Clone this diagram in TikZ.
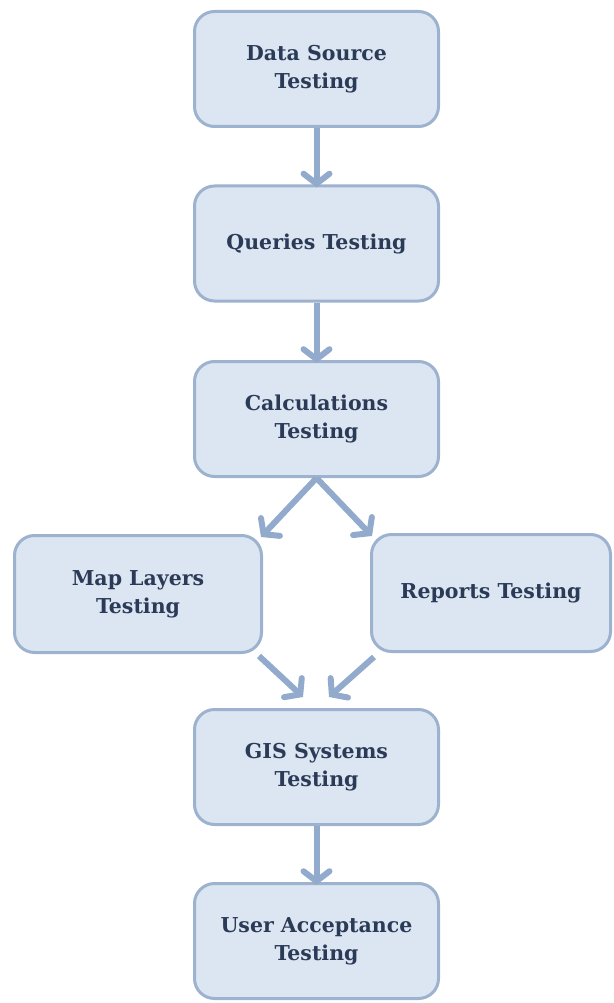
\documentclass[tikz,border=0pt]{standalone}
\usepackage{fontspec}
\setmainfont{DejaVu Serif}
\usetikzlibrary{arrows.meta}
\definecolor{boxfill}{HTML}{DCE6F2}
\definecolor{boxline}{HTML}{9DB2CE}
\definecolor{arrowcol}{HTML}{92ABCD}
\definecolor{txt}{HTML}{2B3A56}
\begin{document}
\begin{tikzpicture}[x=1pt,y=-1pt,
  stage/.style={draw=boxline, fill=boxfill, line width=3pt, rounded corners=20pt,
    minimum width=244pt, minimum height=115pt, align=center, text=txt,
    font=\fontsize{20.5}{28}\selectfont\bfseries, inner sep=0pt},
  flow/.style={draw=arrowcol, line width=6pt,
    -{Straight Barb[length=10pt,width=26pt,line width=6pt,line cap=round]}}]
\useasboundingbox (0,0) rectangle (613,1003);
\node[stage] (ds) at (316.5,69) {Data Source\\Testing};
\node[stage] (q) at (316.5,243.5) {Queries Testing};
\node[stage] (calc) at (316.5,419) {Calculations\\Testing};
\node[stage, minimum width=247pt, minimum height=117pt] (ml) at (138,594) {Map Layers\\Testing};
\node[stage, minimum width=239pt, minimum height=117pt] (rep) at (491,593) {Reports Testing};
\node[stage] (gis) at (316.5,767) {GIS Systems\\Testing};
\node[stage] (ua) at (316.5,941) {User Acceptance\\Testing};
\coordinate (gl) at (303,697);
\coordinate (gr) at (329,697);
\draw[flow] (ds.south) -- ([yshift=-3pt]q.north);
\draw[flow] (q.south) -- ([yshift=-3pt]calc.north);
\draw[flow] (calc.south) -- ([shift={(-2pt,-3pt)}]ml.north east);
\draw[flow] (calc.south) -- ([shift={(2pt,-3pt)}]rep.north west);
\draw[flow] ([shift={(-4pt,-2pt)}]ml.south east) -- (gl);
\draw[flow] ([shift={(4pt,-4pt)}]rep.south west) -- (gr);
\draw[flow] (gis.south) -- ([yshift=-3pt]ua.north);
\end{tikzpicture}
\end{document}
